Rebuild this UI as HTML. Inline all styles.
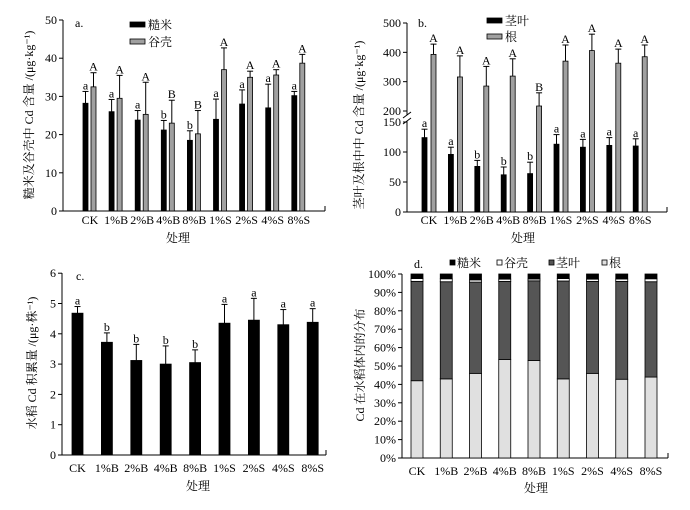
<!DOCTYPE html>
<html><head><meta charset="utf-8"><style>
body{margin:0;background:#fff}
svg text{font-family:"Liberation Serif","Noto Serif CJK SC","Noto Sans CJK SC",serif;fill:#000}
</style></head><body>
<svg id="s" width="690" height="505" xmlns="http://www.w3.org/2000/svg">
<defs><pattern id="dots" width="3" height="3" patternUnits="userSpaceOnUse"><rect width="3" height="3" fill="#e0e0e0"/></pattern></defs>
</svg>
<script>
const categories=["CK","1%B","2%B","4%B","8%B","1%S","2%S","4%S","8%S"];
// panel a
const aRice=[28.2,26,23.8,21.2,18.5,24,28,27,30.2];
const aRiceErr=[31.3,29.2,26.3,23.7,21,29.3,31.7,33.2,31.3];
const aHusk=[32.5,29.5,25.3,23,20.2,37,35,35.6,38.7];
const aHuskErr=[36.2,35.5,33.7,29,26.3,42.7,36.6,37,41];
const aRiceLet=["a","a","a","b","b","a","a","a","a"];
const aHuskLet=["A","A","A","B","B","A","A","A","A"];
const aTicks=[0,10,20,30,40,50];
// panel b
const bStem=[124,96,76,62,64,113,108,111,110];
const bStemErr=[138,108,86,75,83,129,121,124,122];
const bRoot=[393,316,285,319,217,370,406,363,385];
const bRootErr=[428,388,352,378,262,425,462,411,425];
const bStemLet=["a","a","b","b","b","a","a","a","a"];
const bRootLet=["A","A","A","A","B","A","A","A","A"];
const bTicksLow=[0,50,100,150];
const bTicksHigh=[200,300,400,500];
// panel c
const cTotal=[4.68,3.72,3.12,3.0,3.05,4.35,4.45,4.3,4.38];
const cErr=[4.9,4.03,3.65,3.6,3.47,4.97,5.17,4.8,4.83];
const cLet=["a","b","b","b","b","a","a","a","a"];
const cTicks=[0,1,2,3,4,5,6];
// panel d (percent)
const dRoot=[42,43,46,53.5,53,43,46,42.8,44];
const dStem=[54,52.8,49.6,42.5,43.3,53.2,50,53.2,51.8];
const dHusk=[1.5,1.6,1.2,1.2,1,1.3,1.2,1.3,1.6];
const dTicks=[0,10,20,30,40,50,60,70,80,90,100];

const S=document.getElementById('s');const NS="http://www.w3.org/2000/svg";
function el(t,a,txt){const e=document.createElementNS(NS,t);for(const k in a)e.setAttribute(k,a[k]);if(txt!==undefined)e.textContent=txt;S.appendChild(e);return e;}
function line(x1,y1,x2,y2,name){const e=el('line',{x1,y1,x2,y2,stroke:'#000','stroke-width':1});

return e;}
function text(x,y,s,name,size,anchor){const e=el('text',{x,y,'font-size':size||12,'text-anchor':anchor||'middle'},s);

return e;}
function rect(x,y,w,h,fill,name){const e=el('rect',{x,y,width:w,height:Math.max(0,h),fill,stroke:'#000','stroke-width':0.8});

return e;}
function errbar(x,y1,y2,name){line(x,y1,x,y2,name);line(x-3,y2,x+3,y2,name+'-cap');}
function ytitle(x,y,s,name){const e=text(x,y,s,name,12);e.setAttribute('transform','rotate(-90 '+x+' '+y+')');}

// ===== Panel a
{const x0=63,xe=325,y0=211,ys=v=>y0-v*3.82,cx=i=>90+26.1*i;
line(x0,20,x0,y0,'a-y-axis');line(x0,y0,xe,y0,'a-x-axis');line(xe,y0,xe,y0-5,'a-x-axis-end');
aTicks.forEach(t=>{line(x0-4,ys(t),x0,ys(t),'a-y-tick');text(x0-6,ys(t)+4,t,'a-y-tick-label',12,'end');});
categories.forEach((c,i)=>{const x=cx(i);
rect(x-7,ys(aRice[i]),5,y0-ys(aRice[i]),'#000','a-bar-rice');errbar(x-4.5,ys(aRice[i]),ys(aRiceErr[i]),'a-err-rice');
text(x-4.5,ys(aRiceErr[i])-2,aRiceLet[i],'a-letter-rice',12);
rect(x+1,ys(aHusk[i]),5,y0-ys(aHusk[i]),'#a0a0a0','a-bar-husk');errbar(x+3.5,ys(aHusk[i]),ys(aHuskErr[i]),'a-err-husk');
text(x+3.5,ys(aHuskErr[i])-2,aHuskLet[i],'a-letter-husk',12);
text(x,224,c,'a-x-label',12);});
text(75,27,'a.','a-panel-label',12,'start');
rect(130,22,15,5,'#000','a-legend-rice-swatch');text(148,29,'糙米','a-legend-rice',12,'start');
rect(130,39,15,5,'#a0a0a0','a-legend-husk-swatch');text(148,46,'谷壳','a-legend-husk',12,'start');
text(178,242,'处理','a-x-title',12);
ytitle(33,115,'糙米及谷壳中 Cd 含量 /(μg·kg⁻¹)','a-y-title');}

// ===== Panel b
{const x0=407,xe=667,y0=212,yl=v=>y0-v*0.6,yh=v=>111-(v-200)*0.2933,cx=i=>429+26.4*i;
const yb=v=>v<=150?yl(v):yh(v);
line(x0,23,x0,115,'b-y-axis-upper');line(x0,121,x0,y0,'b-y-axis-lower');
line(x0-4,118,x0+4,112,'b-axis-break');line(x0-4,124,x0+4,118,'b-axis-break');
line(x0,y0,xe,y0,'b-x-axis');line(xe,y0,xe,y0-5,'b-x-axis-end');
bTicksLow.forEach(t=>{line(x0-4,yl(t),x0,yl(t),'b-y-tick');text(x0-6,yl(t)+4,t,'b-y-tick-label',12,'end');});
bTicksHigh.forEach(t=>{line(x0-4,yh(t),x0,yh(t),'b-y-tick');text(x0-6,yh(t)+4,t,'b-y-tick-label',12,'end');});
categories.forEach((c,i)=>{const x=cx(i);
rect(x-7,yb(bStem[i]),5,y0-yb(bStem[i]),'#000','b-bar-stem');errbar(x-4.5,yb(bStem[i]),yb(bStemErr[i]),'b-err-stem');
text(x-4.5,yb(bStemErr[i])-2,bStemLet[i],'b-letter-stem',12);
rect(x+2,yb(bRoot[i]),5,y0-yb(bRoot[i]),'#a0a0a0','b-bar-root');errbar(x+4.5,yb(bRoot[i]),yb(bRootErr[i]),'b-err-root');
text(x+4.5,yb(bRootErr[i])-2,bRootLet[i],'b-letter-root',12);
text(x,224,c,'b-x-label',12);});
text(418,27,'b.','b-panel-label',12,'start');
rect(487,18,15,5,'#000','b-legend-stem-swatch');text(505,25,'茎叶','b-legend-stem',12,'start');
rect(487,34,15,5,'#a0a0a0','b-legend-root-swatch');text(505,41,'根','b-legend-root',12,'start');
text(523,242,'处理','b-x-title',12);
ytitle(363,125,'茎叶及根中中 Cd 含量 /(μg·kg⁻¹)','b-y-title');}

// ===== Panel c
{const x0=62,xe=326,y0=455,ys=v=>y0-v*30.3,cx=i=>77.5+29.4*i;
line(x0,273,x0,y0,'c-y-axis');line(x0,y0,xe,y0,'c-x-axis');line(xe,y0,xe,y0-5,'c-x-axis-end');
cTicks.forEach(t=>{line(x0-4,ys(t),x0,ys(t),'c-y-tick');text(x0-6,ys(t)+4,t,'c-y-tick-label',12,'end');});
categories.forEach((c,i)=>{const x=cx(i);
rect(x-5.5,ys(cTotal[i]),11,y0-ys(cTotal[i]),'#000','c-bar-total');errbar(x,ys(cTotal[i]),ys(cErr[i]),'c-err');
text(x,ys(cErr[i])-2,cLet[i],'c-letter',12);
text(x,472,c,'c-x-label',12);});
text(76,280,'c.','c-panel-label',12,'start');
text(198,490,'处理','c-x-title',12);
ytitle(36,363,'水稻 Cd 积累量 /(μg·株⁻¹)','c-y-title');}

// ===== Panel d
{const x0=402,xe=668,y0=458,ys=v=>y0-v*1.84,cx=i=>417+29.25*i;
line(x0,274,x0,y0,'d-y-axis');line(x0,y0,xe,y0,'d-x-axis');line(xe,y0,xe,y0-5,'d-x-axis-end');
dTicks.forEach(t=>{line(x0-4,ys(t),x0,ys(t),'d-y-tick');text(x0-6,ys(t)+4,t+'%','d-y-tick-label',12,'end');});
categories.forEach((c,i)=>{const x=cx(i)-6;
const r=dRoot[i],s=dStem[i],h=dHusk[i];
rect(x,ys(r),12,y0-ys(r),'url(#dots)','d-seg-root');
rect(x,ys(r+s),12,ys(r)-ys(r+s),'#555','d-seg-stem');
rect(x,ys(r+s+h),12,ys(r+s)-ys(r+s+h),'#fff','d-seg-husk');
rect(x,ys(100),12,ys(r+s+h)-ys(100),'#000','d-seg-rice');
text(cx(i),475,c,'d-x-label',12);});
text(414,268,'d.','d-panel-label',12,'start');
rect(450,260,5,5,'#000','d-legend-rice-swatch');text(457,267,'糙米','d-legend-rice',12,'start');
rect(497,260,5,5,'#fff','d-legend-husk-swatch');text(504,267,'谷壳','d-legend-husk',12,'start');
rect(549,260,5,5,'#555','d-legend-stem-swatch');text(556,267,'茎叶','d-legend-stem',12,'start');
rect(602,260,5,5,'url(#dots)','d-legend-root-swatch');text(609,267,'根','d-legend-root',12,'start');
text(536,492,'处理','d-x-title',12);
ytitle(364,365,'Cd 在水稻体内的分布','d-y-title');}
</script>
</body></html>
